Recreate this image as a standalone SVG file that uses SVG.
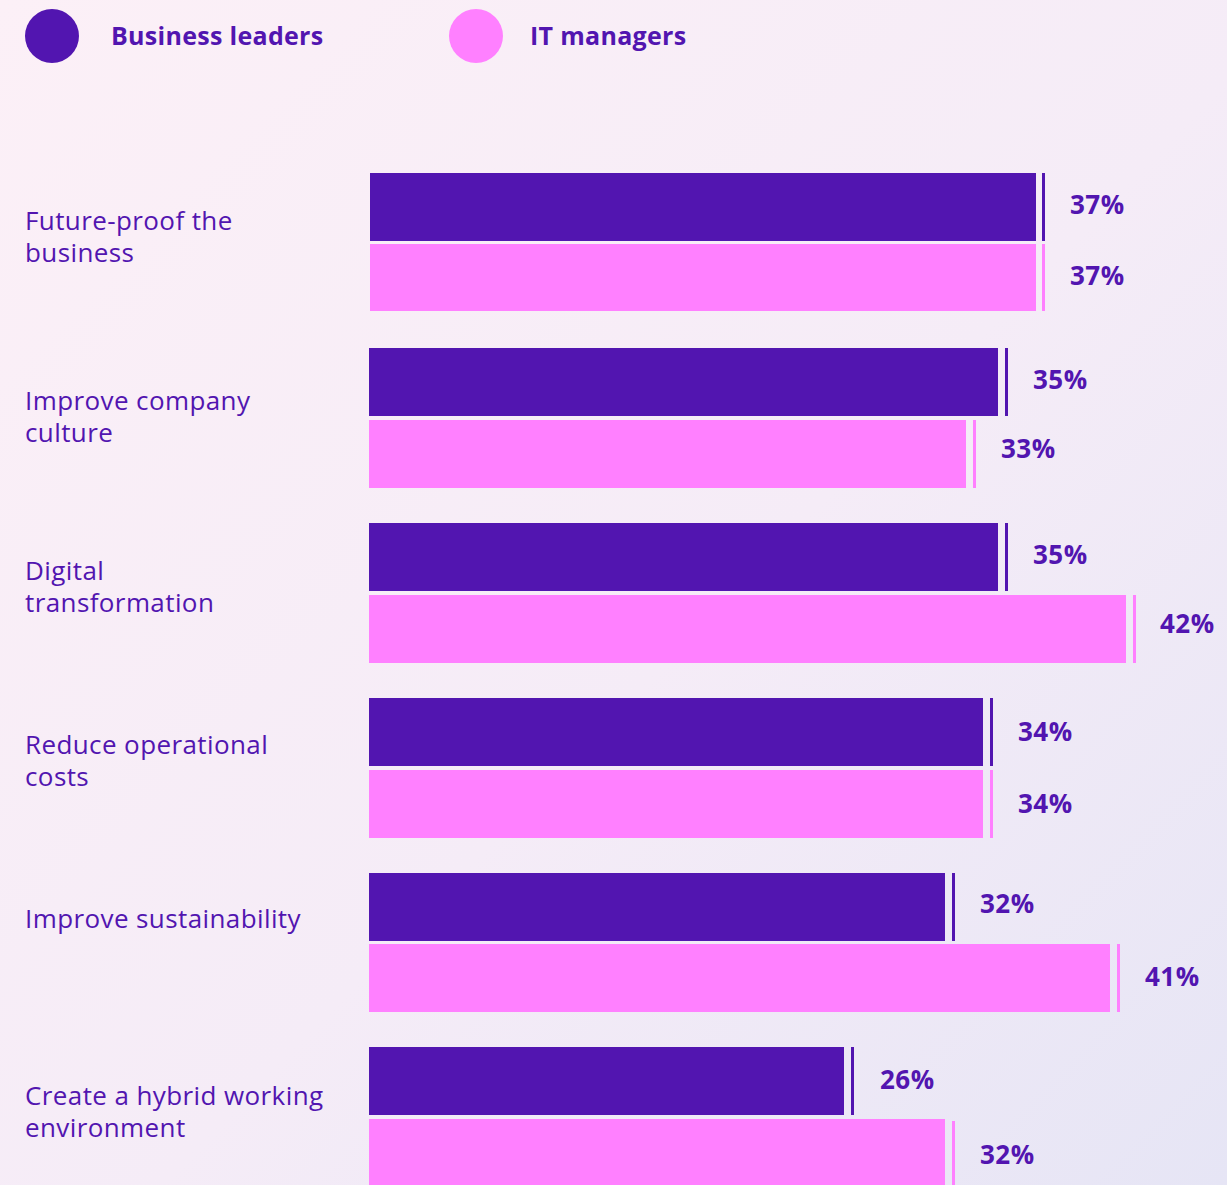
<svg xmlns="http://www.w3.org/2000/svg" width="1227" height="1185" viewBox="0 0 1227 1185">
<defs>
<linearGradient id="bg" x1="0" y1="0" x2="1227" y2="1185" gradientUnits="userSpaceOnUse">
<stop offset="0" stop-color="#FCF0F7"/>
<stop offset="0.55" stop-color="#F5ECF7"/>
<stop offset="1" stop-color="#E6E5F5"/>
</linearGradient>
<style>
.bl{fill:#5215B0}
.it{fill:#FF80FF}
.lbl{font-family:"Open Sans","Liberation Sans",sans-serif;font-size:26px;letter-spacing:0.4px;fill:#5215B0}
.pct{font-family:"Open Sans","Liberation Sans",sans-serif;font-size:26px;font-weight:700;letter-spacing:0.5px;fill:#5215B0}
.leg{font-family:"Open Sans","Liberation Sans",sans-serif;font-size:25px;font-weight:700;letter-spacing:0.3px;fill:#5215B0}
</style>
</defs>
<rect width="1227" height="1185" fill="url(#bg)"/>
<g id="legend-business-leaders">
<circle cx="52" cy="36" r="27" class="bl"/>
<text x="111" y="45" class="leg">Business leaders</text>
</g>
<g id="legend-it-managers">
<circle cx="476" cy="36" r="27" class="it"/>
<text x="530" y="45" class="leg">IT managers</text>
</g>
<g id="cat-future-proof">
<text class="lbl"><tspan x="25" y="230">Future-proof the</tspan><tspan x="25" y="262">business</tspan></text>
<rect x="370" y="173" width="666" height="68" class="bl"/>
<rect x="1042" y="173" width="3" height="68" class="bl"/>
<text x="1070" y="214" class="pct">37%</text>
<rect x="370" y="244" width="666" height="67" class="it"/>
<rect x="1042" y="244" width="3" height="67" class="it"/>
<text x="1070" y="285" class="pct">37%</text>
</g>
<g id="cat-company-culture">
<text class="lbl"><tspan x="25" y="410">Improve company</tspan><tspan x="25" y="442">culture</tspan></text>
<rect x="369" y="348" width="629" height="68" class="bl"/>
<rect x="1005" y="348" width="3" height="68" class="bl"/>
<text x="1033" y="389" class="pct">35%</text>
<rect x="369" y="420" width="597" height="68" class="it"/>
<rect x="973" y="420" width="3" height="68" class="it"/>
<text x="1001" y="458" class="pct">33%</text>
</g>
<g id="cat-digital-transformation">
<text class="lbl"><tspan x="25" y="580">Digital</tspan><tspan x="25" y="612">transformation</tspan></text>
<rect x="369" y="523" width="629" height="68" class="bl"/>
<rect x="1005" y="523" width="3" height="68" class="bl"/>
<text x="1033" y="564" class="pct">35%</text>
<rect x="369" y="595" width="757" height="68" class="it"/>
<rect x="1133" y="595" width="3" height="68" class="it"/>
<text x="1160" y="633" class="pct">42%</text>
</g>
<g id="cat-operational-costs">
<text class="lbl"><tspan x="25" y="754">Reduce operational</tspan><tspan x="25" y="786">costs</tspan></text>
<rect x="369" y="698" width="614" height="68" class="bl"/>
<rect x="990" y="698" width="3" height="68" class="bl"/>
<text x="1018" y="741" class="pct">34%</text>
<rect x="369" y="770" width="614" height="68" class="it"/>
<rect x="990" y="770" width="3" height="68" class="it"/>
<text x="1018" y="813" class="pct">34%</text>
</g>
<g id="cat-sustainability">
<text class="lbl"><tspan x="25" y="928">Improve sustainability</tspan></text>
<rect x="369" y="873" width="576" height="68" class="bl"/>
<rect x="952" y="873" width="3" height="68" class="bl"/>
<text x="980" y="913" class="pct">32%</text>
<rect x="369" y="944" width="741" height="68" class="it"/>
<rect x="1117" y="944" width="3" height="68" class="it"/>
<text x="1145" y="986" class="pct">41%</text>
</g>
<g id="cat-hybrid-working">
<text class="lbl"><tspan x="25" y="1105">Create a hybrid working</tspan><tspan x="25" y="1137">environment</tspan></text>
<rect x="369" y="1047" width="475" height="68" class="bl"/>
<rect x="851" y="1047" width="3" height="68" class="bl"/>
<text x="880" y="1089" class="pct">26%</text>
<rect x="369" y="1119" width="576" height="66" class="it"/>
<rect x="952" y="1121" width="3" height="64" class="it"/>
<text x="980" y="1164" class="pct">32%</text>
</g>
<g id="connectors"/>
</svg>
